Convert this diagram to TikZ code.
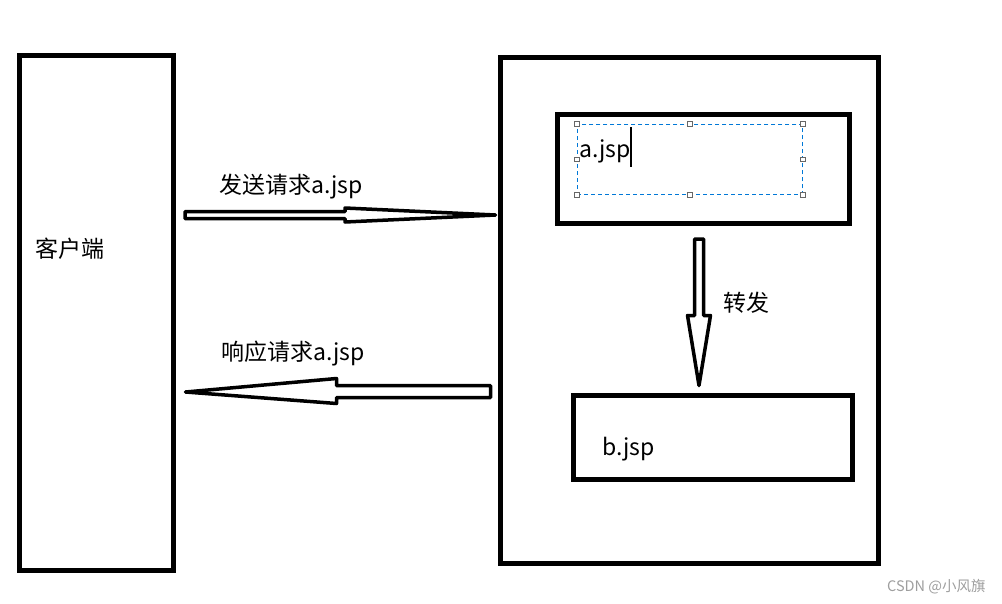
\documentclass[tikz,border=0pt]{standalone}
\usepackage{fontspec}
\usetikzlibrary{positioning, calc}
\newfontfamily\cjk{Noto Sans CJK SC}
\definecolor{ink}{gray}{0}
\definecolor{selblue}{RGB}{0,120,215}
\definecolor{handle}{gray}{0.40}
\definecolor{mark}{gray}{0.62}

\begin{document}
\begin{tikzpicture}[
  x=1pt, y=-1pt,
  font=\cjk\fontsize{23}{27}\selectfont,
  box/.style={draw=ink, line width=5pt, inner sep=0pt},
  txt/.style={inner sep=0pt, anchor=base west, text=ink},
  blockarrow/.style={draw=ink, line width=3.5pt, line join=round, fill=white},
  sel/.style={draw=selblue, line width=1.2pt, dash pattern=on 4pt off 3pt,
              inner sep=0pt},
  grip/.style={draw=handle, fill=white, line width=0.9pt, minimum size=4.5pt,
               inner sep=0pt},
]
\useasboundingbox (0,0) rectangle (1002,603);

% boxes
\node[box, minimum width=153.5pt, minimum height=515.5pt] (client) at (96.25,312.75) {};
\node[box, minimum width=378.5pt, minimum height=506pt] (server) at (689.25,310.5) {};
\node[box, minimum width=291.5pt, minimum height=109.3pt] (ajsp) at (703.25,168.65) {};
\node[box, minimum width=279pt, minimum height=84pt] (bjsp) at (713,437) {};

% selected text frame in a.jsp
\node[sel, minimum width=225pt, minimum height=70pt] (selframe) at (689.8,159.3) {};
\foreach \a in {north west,north,north east,east,south east,south,south west,west}
  \node[grip] at (selframe.\a) {};
\draw[ink, line width=1.2pt] (631,127) -- (631,167);

% texts
\node[txt] (clientlbl) at (35,257) {客户端};
\node[txt] (reqlbl) at (219,193) {发送请求a.jsp};
\node[txt] (resplbl) at (221,360) {响应请求a.jsp};
\node[txt] (alabel) at (579,157) {a.jsp};
\node[txt] (blabel) at (602,455) {b.jsp};
\node[txt] (fwdlbl) at (723,311) {转发};
\node[txt, text=mark, font=\cjk\fontsize{14.5}{17}\selectfont] (credit) at (887,591) {CSDN @小风旗};

% request arrow
\coordinate (reqtail) at (185,215);
\coordinate (reqtip) at ($(reqtail -| server.west)+(-2,0)$);
\draw[blockarrow] ($(reqtail)+(0,-3.5)$) -- ($(reqtail)+(160,-3.5)$)
  -- ($(reqtail)+(160,-7)$) -- (reqtip) -- ($(reqtail)+(160,7)$)
  -- ($(reqtail)+(160,3.5)$) -- ($(reqtail)+(0,3.5)$) -- cycle;

% response arrow
\coordinate (resptail) at (490.5,391.5);
\coordinate (resptip) at ($(resptail -| client.east)+(10,0.5)$);
\draw[blockarrow] (resptip) -- ($(resptail)+(-154,-13)$) -- ($(resptail)+(-154,-6)$)
  -- ($(resptail)+(0,-6)$) -- ($(resptail)+(0,6)$) -- ($(resptail)+(-154,6)$)
  -- ($(resptail)+(-154,12)$) -- cycle;

% forward arrow
\coordinate (fwdtail) at ($(ajsp.south)+(-4.25,13.2)$);
\coordinate (fwdtip) at ($(bjsp.north -| fwdtail)+(0,-7)$);
\draw[blockarrow] ($(fwdtail)+(-4.5,0)$) -- ($(fwdtail)+(4.5,0)$)
  -- ($(fwdtail)+(4.5,76.5)$) -- ($(fwdtail)+(11.5,76.5)$) -- (fwdtip)
  -- ($(fwdtail)+(-11.5,76.5)$) -- ($(fwdtail)+(-4.5,76.5)$) -- cycle;
\end{tikzpicture}
\end{document}
